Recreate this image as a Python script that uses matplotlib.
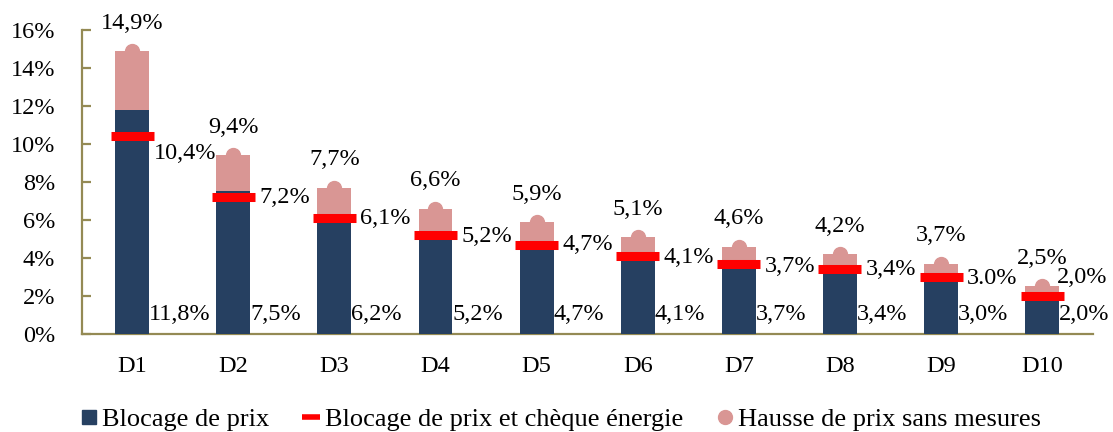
import matplotlib
matplotlib.use("Agg")
import matplotlib.pyplot as plt
from matplotlib.lines import Line2D
import numpy as np

# Data
deciles = ["D1", "D2", "D3", "D4", "D5", "D6", "D7", "D8", "D9", "D10"]
hausse_sans_mesures = [14.9, 9.4, 7.7, 6.6, 5.9, 5.1, 4.6, 4.2, 3.7, 2.5]
blocage_prix = [11.8, 7.5, 6.2, 5.2, 4.7, 4.1, 3.7, 3.4, 3.0, 2.0]
blocage_cheque = [10.4, 7.2, 6.1, 5.2, 4.7, 4.1, 3.7, 3.4, 3.0, 2.0]

hausse_labels = ["14,9%", "9,4%", "7,7%", "6,6%", "5,9%", "5,1%", "4,6%", "4,2%", "3,7%", "2,5%"]
blocage_labels = ["11,8%", "7,5%", "6,2%", "5,2%", "4,7%", "4,1%", "3,7%", "3,4%", "3,0%", "2,0%"]
cheque_labels = ["10,4%", "7,2%", "6,1%", "5,2%", "4,7%", "4,1%", "3,7%", "3,4%", "3.0%", "2,0%"]

# manual nudges of the red labels (points), as in the original
cheque_label_dx = [0, 3, 3, 3, 3, 3, 3, 3, 3, -5]
cheque_label_dy = [-12, 0, 0, -1, 0, -1, -2, 0, -1, 13]

NAVY = "#264061"
PINK = "#D99694"
RED = "#FF0000"
SPINE = "#948A54"

plt.rcParams["font.family"] = ["Liberation Serif", "DejaVu Serif"]
plt.rcParams["font.size"] = 17.5

fig = plt.figure(figsize=(11.13, 4.32), dpi=100)
ax = fig.add_axes([0.0733, 0.2269, 0.9085, 0.7037])

x = np.arange(len(deciles))
bar_w = 0.336
mark_w = 0.425

ax.bar(x, hausse_sans_mesures, width=bar_w, color=PINK, zorder=2)
ax.plot(x, hausse_sans_mesures, "o", color=PINK, ms=10, zorder=2)
ax.bar(x, blocage_prix, width=bar_w, color=NAVY, zorder=3)
ax.hlines(blocage_cheque, x - mark_w / 2, x + mark_w / 2, color=RED, lw=6.5, zorder=4)

for i in range(len(x)):
    ax.annotate(hausse_labels[i], (x[i], hausse_sans_mesures[i]), xytext=(0, 16),
                textcoords="offset points", ha="center", va="baseline")
    ax.annotate(cheque_labels[i], (x[i] + mark_w / 2, blocage_cheque[i]),
                xytext=(cheque_label_dx[i], cheque_label_dy[i]),
                textcoords="offset points", ha="left", va="center")
    ax.annotate(blocage_labels[i], (x[i] + bar_w / 2, 0), xytext=(0, 10),
                textcoords="offset points", ha="left", va="baseline")

ax.set_xlim(-0.5, len(x) - 0.5)
ax.set_ylim(0, 16)
ax.set_yticks(np.arange(0, 17, 2))
ax.set_yticklabels([f"{v}%" for v in range(0, 17, 2)])
ax.set_xticks(x)
ax.set_xticklabels(deciles)

for side in ["top", "right"]:
    ax.spines[side].set_visible(False)
for side in ["left", "bottom"]:
    ax.spines[side].set_color(SPINE)
    ax.spines[side].set_linewidth(1.6)

ax.tick_params(axis="y", direction="in", length=6.5, width=1.6, color=SPINE, pad=19)
ax.tick_params(axis="x", length=0, pad=16)

handles = [
    Line2D([], [], ls="none", marker="s", ms=10, color=NAVY),
    Line2D([], [], ls="none", marker="_", ms=13, mew=4, color=RED),
    Line2D([], [], ls="none", marker="o", ms=10, color=PINK),
]
fig.legend(handles, ["Blocage de prix", "Blocage de prix et chèque énergie",
                     "Hausse de prix sans mesures"],
           loc="center", bbox_to_anchor=(0.504, 0.03), ncol=3, frameon=False,
           fontsize=19, handlelength=0.6, handletextpad=0.2, columnspacing=1.3)

fig.savefig("out.png", dpi=100)
